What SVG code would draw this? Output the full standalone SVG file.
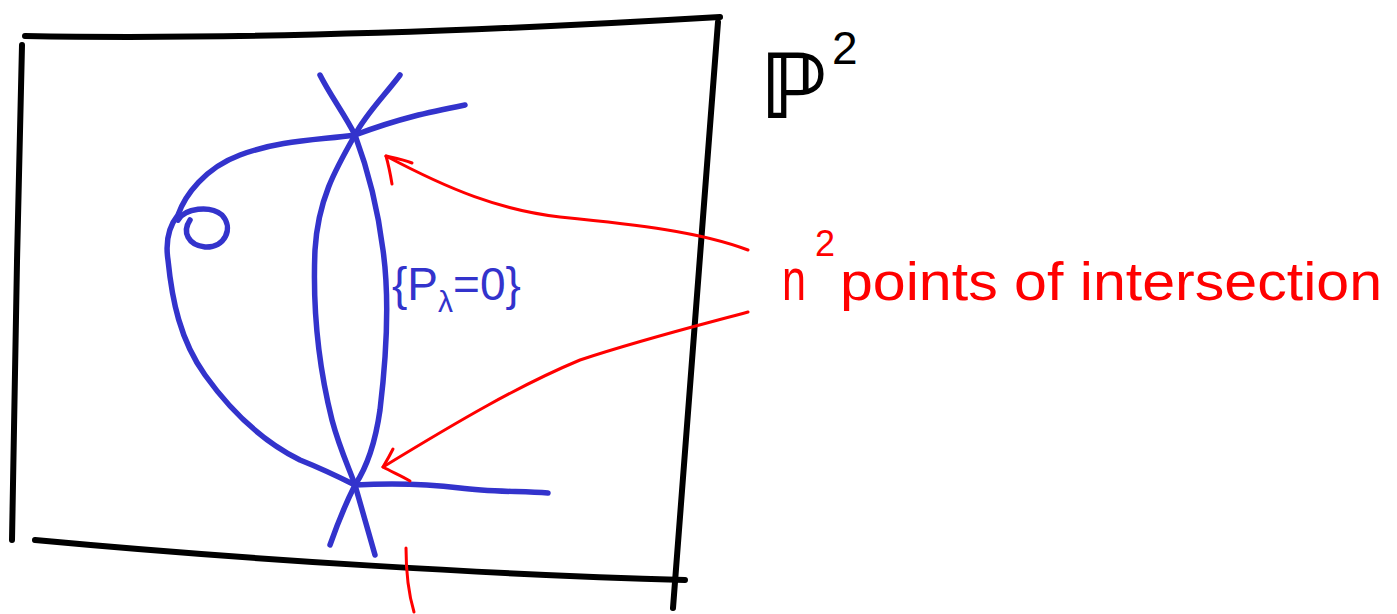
<svg xmlns="http://www.w3.org/2000/svg" width="1397" height="614" viewBox="0 0 1397 614">
<style>
.k{fill:none;stroke:#000;stroke-width:6;stroke-linecap:round;stroke-linejoin:round}
.b{fill:none;stroke:#3333cc;stroke-width:5.5;stroke-linecap:round;stroke-linejoin:round}
.r{fill:none;stroke:#ff0000;stroke-width:3;stroke-linecap:round;stroke-linejoin:round}
</style>
<rect width="1397" height="614" fill="#fff"/>
<g id="plane">
<path class="k" d="M25,36 C250,40 500,30 720,17"/>
<path class="k" d="M22,45 C18,200 14,400 12,540"/>
<path class="k" d="M35,540 C250,560 500,575 685,580"/>
<path class="k" d="M718,22 C705,200 690,400 673,608"/>
<text x="760" y="118" font-family="DejaVu Sans, sans-serif" font-size="90" font-weight="bold" fill="#000">ℙ</text>
<text x="832" y="64" font-family="Liberation Sans, sans-serif" font-size="46" fill="#000">2</text>
</g>
<g id="curves">
<path class="b" d="M400,75 C385,95 365,115 355,135 C335,170 318,200 315,250 C312,320 322,380 332,420 C340,450 350,470 355,485 C362,510 368,530 375,555"/>
<path class="b" d="M320,75 C330,95 345,115 355,135 C368,170 378,210 383,250 C390,300 386,360 380,410 C375,445 365,470 355,485 C345,505 337,525 330,545"/>
<path class="b" d="M465,105 C430,112 400,118 355,135 C320,140 280,140 240,155 C205,168 185,195 178,215 C170,225 165,240 168,260 C172,300 180,340 205,375 C230,410 260,440 300,460 C325,470 345,480 355,485 C390,483 420,483 460,488 C490,492 520,491 548,493"/>
<path class="b" d="M178,220 C185,208 210,205 222,215 C234,228 225,248 205,247 C188,245 182,232 190,220"/>
<text x="392" y="300" font-family="Liberation Sans, sans-serif" font-size="46" fill="#3333cc">{P<tspan font-size="30" dy="12">λ</tspan><tspan dy="-12">=0}</tspan></text>
</g>
<g id="label">
<text x="782" y="300" font-family="Liberation Sans, sans-serif" font-size="60" fill="#ff0000" textLength="24" lengthAdjust="spacingAndGlyphs">n</text>
<text x="815" y="256" font-family="Liberation Sans, sans-serif" font-size="36" fill="#ff0000">2</text>
<text x="840" y="300" font-family="Liberation Sans, sans-serif" font-size="54" fill="#ff0000" textLength="542" lengthAdjust="spacingAndGlyphs">points of intersection</text>
</g>
<g id="connectors">
<path class="r" d="M748,250 C700,232 640,225 560,217 C500,210 450,190 386,156"/>
<path class="r" d="M392,184 C390,172 388,163 386,156 C395,158 405,160 412,163"/>
<path class="r" d="M748,312 C700,325 640,340 580,360 C520,385 460,420 383,467"/>
<path class="r" d="M393,449 C390,455 386,462 383,467 C392,472 402,476 410,481"/>
<path class="r" d="M406,548 C406,570 408,592 414,612"/>
</g>
</svg>
